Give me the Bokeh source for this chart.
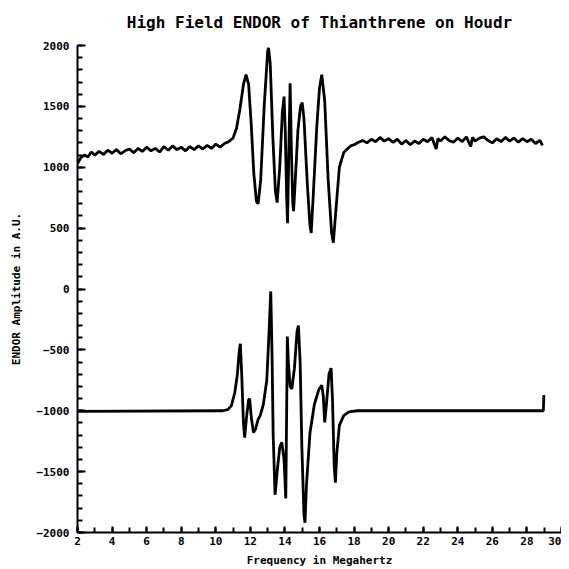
from bokeh.plotting import figure
from bokeh.models import SingleIntervalTicker, Range1d
from bokeh.embed import file_html
from bokeh.resources import INLINE

# Upper trace (frequency MHz, amplitude A.U.)
upper_freq = [2.0, 2.2, 2.4, 2.6, 2.8, 3.0, 3.25, 3.5, 3.75, 4.0, 4.25, 4.5, 4.75, 5.0,
              5.25, 5.5, 5.75, 6.0, 6.25, 6.5, 6.75, 7.0, 7.25, 7.5, 7.75, 8.0, 8.25,
              8.5, 8.75, 9.0, 9.25, 9.5, 9.75, 10.0, 10.25, 10.5, 10.75, 11.0, 11.2,
              11.4, 11.6, 11.75, 11.9, 12.05, 12.2, 12.35, 12.45, 12.6, 12.8, 13.0,
              13.05, 13.15, 13.3, 13.45, 13.55, 13.7, 13.85, 13.95, 14.02, 14.1, 14.15,
              14.22, 14.3, 14.38, 14.45, 14.5, 14.6, 14.75, 14.9, 15.0, 15.1, 15.3,
              15.45, 15.52, 15.65, 15.85, 16.0, 16.13, 16.3, 16.5, 16.7, 16.8, 16.95,
              17.15, 17.4, 17.6, 17.8, 18.0, 18.25, 18.5, 18.75, 19.0, 19.25, 19.5,
              19.75, 20.0, 20.25, 20.5, 20.75, 21.0, 21.25, 21.5, 21.75, 22.0, 22.25,
              22.5, 22.75, 22.85, 23.0, 23.25, 23.5, 23.75, 24.0, 24.25, 24.5, 24.75,
              24.85, 25.0, 25.25, 25.5, 25.75, 26.0, 26.25, 26.5, 26.75, 27.0, 27.25,
              27.5, 27.75, 28.0, 28.25, 28.5, 28.75, 28.9]
upper_amp = [1030, 1080, 1100, 1085, 1125, 1100, 1130, 1105, 1140, 1115, 1145, 1110, 1135, 1150,
             1120, 1155, 1130, 1165, 1135, 1155, 1125, 1170, 1140, 1175, 1145, 1165, 1135,
             1170, 1145, 1175, 1150, 1180, 1155, 1190, 1165, 1195, 1210, 1240, 1320,
             1480, 1680, 1760, 1680, 1350, 950, 720, 700, 900, 1500, 1950,
             1980, 1850, 1250, 800, 710, 1000, 1450, 1580, 1300, 750, 540,
             1100, 1690, 1100, 720, 640, 900, 1300, 1500, 1530, 1400, 850,
             520, 460, 800, 1350, 1650, 1760, 1550, 900, 460, 380, 650,
             1000, 1120, 1150, 1175, 1185, 1205, 1220, 1200, 1230, 1210, 1245,
             1215, 1235, 1205, 1230, 1190, 1220, 1185, 1215, 1195, 1230, 1210,
             1245, 1150, 1235, 1215, 1250, 1220, 1205, 1240, 1210, 1250, 1170,
             1245, 1215, 1240, 1250, 1220, 1200, 1235, 1210, 1245, 1215, 1240,
             1205, 1235, 1210, 1230, 1195, 1220, 1180]

# Lower trace (frequency MHz, amplitude A.U.)
lower_freq = [2.0, 10.4, 10.7, 10.9, 11.1, 11.25, 11.35, 11.42, 11.5, 11.6, 11.67, 11.78,
              11.9, 11.96, 12.05, 12.18, 12.3, 12.45, 12.57, 12.75, 12.95, 13.05, 13.18,
              13.25, 13.32, 13.43, 13.55, 13.7, 13.82, 13.95, 14.05, 14.1, 14.14, 14.2,
              14.3, 14.4, 14.55, 14.7, 14.78, 14.88, 14.98, 15.1, 15.16, 15.25, 15.45,
              15.7, 15.95, 16.13, 16.22, 16.3, 16.4, 16.55, 16.67, 16.75, 16.85, 16.92,
              17.0, 17.15, 17.4, 17.7, 18.2, 28.95, 28.98]
lower_amp = [-1005, -1000, -990, -960, -850, -700, -520, -450, -700, -1100, -1220, -1050,
             -910, -900, -1050, -1180, -1150, -1070, -1040, -950, -750, -450, -20,
             -500, -1200, -1690, -1500, -1300, -1260, -1400, -1720, -1000, -390, -600,
             -800, -820, -650, -350, -300, -600, -1300, -1850, -1920, -1600, -1180,
             -950, -830, -790, -880, -1095, -950, -700, -650, -900, -1450, -1590,
             -1350, -1120, -1040, -1010, -1000, -1000, -870]

x_start, x_end = 2, 30
y_start, y_end = -2000, 2000

FONT = "DejaVu Sans Mono"

p = figure(frame_width=484, frame_height=487, output_backend="svg", toolbar_location=None,
           x_range=Range1d(x_start, x_end), y_range=Range1d(y_start, y_end),
           min_border_left=77, min_border_right=0, min_border_top=0, min_border_bottom=30,
           title="High Field ENDOR of Thianthrene on Houdr")

p.title.text_font = FONT
p.title.text_font_size = "16px"
p.title.text_font_style = "bold"
p.title.text_color = "black"
p.title.align = "center"
p.title.vertical_align = "top"
p.title.standoff = 24

p.line(upper_freq, upper_amp, line_color="black", line_width=2.8)
p.line(lower_freq, lower_amp, line_color="black", line_width=2.8)

p.grid.visible = False
p.outline_line_color = None
p.background_fill_color = "white"
p.border_fill_color = "white"

p.xaxis.ticker = SingleIntervalTicker(interval=2, num_minor_ticks=2)
p.yaxis.ticker = SingleIntervalTicker(interval=500, num_minor_ticks=5)

p.xaxis.axis_label = "Frequency in Megahertz"
p.yaxis.axis_label = "ENDOR Amplitude in A.U."

for ax in (p.xaxis, p.yaxis):
    ax.axis_line_width = 2
    ax.axis_line_color = "black"
    ax.major_tick_line_width = 2
    ax.minor_tick_line_width = 2
    ax.major_tick_line_color = "black"
    ax.minor_tick_line_color = "black"
    ax.major_tick_out = 0
    ax.minor_tick_out = 0
    ax.major_label_text_font = FONT
    ax.major_label_text_font_size = "11px"
    ax.major_label_text_font_style = "bold"
    ax.major_label_text_color = "black"
    ax.axis_label_text_font = FONT
    ax.axis_label_text_font_size = "11px"
    ax.axis_label_text_font_style = "bold"
    ax.axis_label_text_color = "black"

p.xaxis.major_tick_in = 6
p.xaxis.minor_tick_in = 5
p.yaxis.major_tick_in = 8
p.yaxis.minor_tick_in = 5
p.xaxis.major_label_standoff = 4
p.xaxis.axis_label_standoff = 6
p.yaxis.major_label_standoff = 8
p.yaxis.axis_label_standoff = 10

open("out.html", "w").write(file_html(p, INLINE))
